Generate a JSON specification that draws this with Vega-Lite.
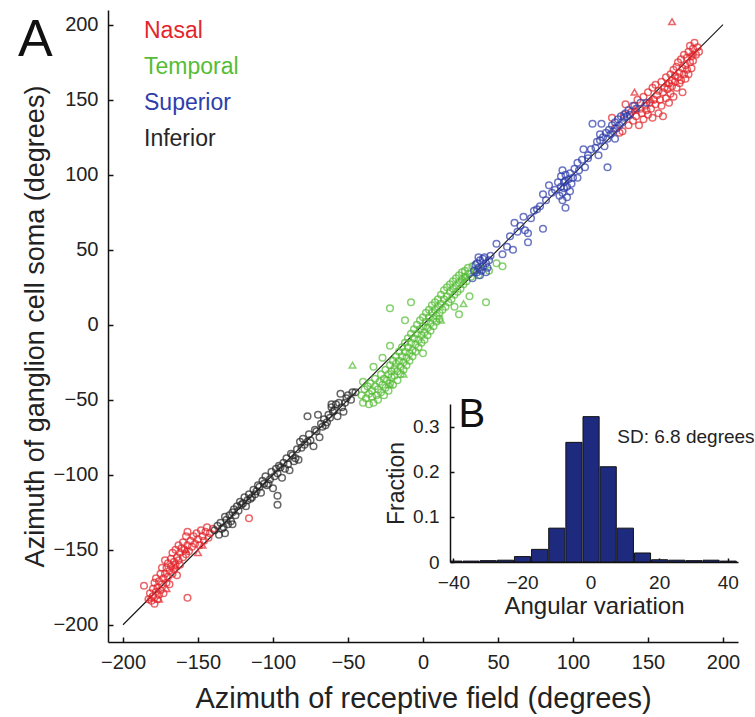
{
"$schema": "https://vega.github.io/schema/vega-lite/v6.json",
"width": 630, "height": 632,
"autosize": "none",
"padding": {"left": 108, "top": 10, "right": 17, "bottom": 75},
"background": "white",
"title": {"text": "A", "anchor": "start", "frame": "group", "orient": "top", "offset": 0, "dx": -90, "dy": 98, "fontSize": 52, "fontWeight": "normal", "font": "Liberation Sans", "color": "#111", "baseline": "alphabetic"},
"config": {
  "view": {"stroke": null},
  "font": "Liberation Sans",
  "axis": {"domainColor": "#111", "domainWidth": 1.5, "tickColor": "#111", "tickWidth": 1.5, "tickSize": -5, "labelFontSize": 20, "labelColor": "#222", "titleFontSize": 27, "titleFontWeight": "normal", "titleColor": "#222", "labelPadding": 15, "grid": false, "labelFont": "Liberation Sans", "titleFont": "Liberation Sans", "labelFlush": false, "labelOverlap": false}
},
"datasets": {
  "diag": [{"x": -200, "y": -200}, {"x": 200, "y": 200}],
  "hist": [
    {"lo": -41, "hi": -37.5, "frac": 0.002}, {"lo": -37.5, "hi": -32.5, "frac": 0.002}, {"lo": -32.5, "hi": -27.5, "frac": 0.003},
    {"lo": -27.5, "hi": -22.5, "frac": 0.004}, {"lo": -22.5, "hi": -17.5, "frac": 0.012}, {"lo": -17.5, "hi": -12.5, "frac": 0.028},
    {"lo": -12.5, "hi": -7.5, "frac": 0.075}, {"lo": -7.5, "hi": -2.5, "frac": 0.265}, {"lo": -2.5, "hi": 2.5, "frac": 0.322},
    {"lo": 2.5, "hi": 7.5, "frac": 0.211}, {"lo": 7.5, "hi": 12.5, "frac": 0.075}, {"lo": 12.5, "hi": 17.5, "frac": 0.02},
    {"lo": 17.5, "hi": 22.5, "frac": 0.005}, {"lo": 22.5, "hi": 27.5, "frac": 0.004}, {"lo": 27.5, "hi": 32.5, "frac": 0.003},
    {"lo": 32.5, "hi": 37.5, "frac": 0.004}, {"lo": 37.5, "hi": 42.5, "frac": 0.002}
  ],
  "triangles": [
    {"g":"Nasal","x":166,"y":202},{"g":"Nasal","x":141,"y":155},{"g":"Nasal","x":141,"y":143},{"g":"Nasal","x":180,"y":181},{"g":"Nasal","x":163,"y":161},{"g":"Nasal","x":152,"y":150},
    {"g":"Nasal","x":-182,"y":-182},{"g":"Nasal","x":-176,"y":-183},{"g":"Nasal","x":-171,"y":-176},{"g":"Nasal","x":-165,"y":-161},{"g":"Nasal","x":-158,"y":-150},{"g":"Nasal","x":-150,"y":-152},{"g":"Nasal","x":-147,"y":-147},
    {"g":"Temporal","x":-47,"y":-27},{"g":"Temporal","x":27,"y":14},{"g":"Temporal","x":12,"y":3},{"g":"Temporal","x":-22,"y":-40},{"g":"Temporal","x":-13,"y":-33},{"g":"Temporal","x":28,"y":32}
  ],
  "circles": [
    {"g":"Nasal","x":128,"y":131},{"g":"Nasal","x":131,"y":128},{"g":"Nasal","x":134,"y":140},{"g":"Nasal","x":135,"y":147},{"g":"Nasal","x":137,"y":133},{"g":"Nasal","x":139,"y":142},{"g":"Nasal","x":140,"y":136},{"g":"Nasal","x":141,"y":146},{"g":"Nasal","x":142,"y":139},{"g":"Nasal","x":143,"y":150},{"g":"Nasal","x":144,"y":133},{"g":"Nasal","x":145,"y":144},{"g":"Nasal","x":146,"y":141},{"g":"Nasal","x":147,"y":152},{"g":"Nasal","x":147,"y":137},{"g":"Nasal","x":148,"y":146},{"g":"Nasal","x":149,"y":143},{"g":"Nasal","x":150,"y":155},{"g":"Nasal","x":150,"y":140},{"g":"Nasal","x":151,"y":148},{"g":"Nasal","x":152,"y":144},{"g":"Nasal","x":153,"y":158},{"g":"Nasal","x":153,"y":138},{"g":"Nasal","x":154,"y":150},{"g":"Nasal","x":155,"y":147},{"g":"Nasal","x":155,"y":160},{"g":"Nasal","x":156,"y":153},{"g":"Nasal","x":157,"y":141},{"g":"Nasal","x":157,"y":156},{"g":"Nasal","x":158,"y":150},{"g":"Nasal","x":159,"y":162},{"g":"Nasal","x":159,"y":146},{"g":"Nasal","x":160,"y":155},{"g":"Nasal","x":160,"y":139},{"g":"Nasal","x":161,"y":158},{"g":"Nasal","x":162,"y":151},{"g":"Nasal","x":162,"y":165},{"g":"Nasal","x":163,"y":157},{"g":"Nasal","x":164,"y":148},{"g":"Nasal","x":164,"y":161},{"g":"Nasal","x":165,"y":167},{"g":"Nasal","x":165,"y":154},{"g":"Nasal","x":166,"y":159},{"g":"Nasal","x":166,"y":163},{"g":"Nasal","x":167,"y":170},{"g":"Nasal","x":167,"y":152},{"g":"Nasal","x":168,"y":162},{"g":"Nasal","x":168,"y":166},{"g":"Nasal","x":169,"y":172},{"g":"Nasal","x":169,"y":158},{"g":"Nasal","x":170,"y":165},{"g":"Nasal","x":170,"y":175},{"g":"Nasal","x":171,"y":161},{"g":"Nasal","x":171,"y":168},{"g":"Nasal","x":172,"y":177},{"g":"Nasal","x":172,"y":163},{"g":"Nasal","x":173,"y":171},{"g":"Nasal","x":173,"y":155},{"g":"Nasal","x":174,"y":167},{"g":"Nasal","x":174,"y":180},{"g":"Nasal","x":175,"y":173},{"g":"Nasal","x":175,"y":164},{"g":"Nasal","x":176,"y":178},{"g":"Nasal","x":176,"y":170},{"g":"Nasal","x":177,"y":182},{"g":"Nasal","x":177,"y":167},{"g":"Nasal","x":178,"y":175},{"g":"Nasal","x":178,"y":186},{"g":"Nasal","x":179,"y":179},{"g":"Nasal","x":179,"y":171},{"g":"Nasal","x":180,"y":184},{"g":"Nasal","x":180,"y":176},{"g":"Nasal","x":181,"y":188},{"g":"Nasal","x":182,"y":180},{"g":"Nasal","x":183,"y":185},{"g":"Nasal","x":184,"y":182},{"g":"Nasal","x":126,"y":138},{"g":"Nasal","x":133,"y":129},
    {"g":"Nasal","x":-183,"y":-183},{"g":"Nasal","x":-182,"y":-179},{"g":"Nasal","x":-181,"y":-184},{"g":"Nasal","x":-180,"y":-176},{"g":"Nasal","x":-180,"y":-181},{"g":"Nasal","x":-179,"y":-172},{"g":"Nasal","x":-179,"y":-186},{"g":"Nasal","x":-178,"y":-178},{"g":"Nasal","x":-178,"y":-169},{"g":"Nasal","x":-177,"y":-183},{"g":"Nasal","x":-177,"y":-175},{"g":"Nasal","x":-176,"y":-171},{"g":"Nasal","x":-176,"y":-180},{"g":"Nasal","x":-175,"y":-166},{"g":"Nasal","x":-175,"y":-177},{"g":"Nasal","x":-174,"y":-173},{"g":"Nasal","x":-174,"y":-162},{"g":"Nasal","x":-173,"y":-169},{"g":"Nasal","x":-173,"y":-179},{"g":"Nasal","x":-172,"y":-157},{"g":"Nasal","x":-172,"y":-166},{"g":"Nasal","x":-171,"y":-172},{"g":"Nasal","x":-171,"y":-162},{"g":"Nasal","x":-170,"y":-168},{"g":"Nasal","x":-170,"y":-159},{"g":"Nasal","x":-169,"y":-164},{"g":"Nasal","x":-169,"y":-173},{"g":"Nasal","x":-168,"y":-156},{"g":"Nasal","x":-168,"y":-161},{"g":"Nasal","x":-167,"y":-152},{"g":"Nasal","x":-167,"y":-166},{"g":"Nasal","x":-166,"y":-158},{"g":"Nasal","x":-166,"y":-163},{"g":"Nasal","x":-165,"y":-150},{"g":"Nasal","x":-165,"y":-160},{"g":"Nasal","x":-164,"y":-155},{"g":"Nasal","x":-164,"y":-167},{"g":"Nasal","x":-163,"y":-147},{"g":"Nasal","x":-163,"y":-157},{"g":"Nasal","x":-162,"y":-152},{"g":"Nasal","x":-162,"y":-160},{"g":"Nasal","x":-161,"y":-149},{"g":"Nasal","x":-160,"y":-155},{"g":"Nasal","x":-160,"y":-145},{"g":"Nasal","x":-159,"y":-150},{"g":"Nasal","x":-158,"y":-153},{"g":"Nasal","x":-158,"y":-141},{"g":"Nasal","x":-157,"y":-138},{"g":"Nasal","x":-157,"y":-147},{"g":"Nasal","x":-156,"y":-151},{"g":"Nasal","x":-155,"y":-144},{"g":"Nasal","x":-154,"y":-148},{"g":"Nasal","x":-153,"y":-141},{"g":"Nasal","x":-152,"y":-146},{"g":"Nasal","x":-151,"y":-139},{"g":"Nasal","x":-150,"y":-143},{"g":"Nasal","x":-149,"y":-147},{"g":"Nasal","x":-148,"y":-137},{"g":"Nasal","x":-147,"y":-141},{"g":"Nasal","x":-146,"y":-144},{"g":"Nasal","x":-145,"y":-138},{"g":"Nasal","x":-144,"y":-135},{"g":"Nasal","x":-143,"y":-142},{"g":"Nasal","x":-142,"y":-139},{"g":"Nasal","x":-140,"y":-136},{"g":"Nasal","x":-157,"y":-182},{"g":"Nasal","x":-116,"y":-129},{"g":"Nasal","x":-186,"y":-174},
    {"g":"Inferior","x":-139,"y":-137},{"g":"Inferior","x":-137,"y":-134},{"g":"Inferior","x":-136,"y":-140},{"g":"Inferior","x":-135,"y":-132},{"g":"Inferior","x":-134,"y":-136},{"g":"Inferior","x":-133,"y":-135},{"g":"Inferior","x":-132,"y":-139},{"g":"Inferior","x":-132,"y":-128},{"g":"Inferior","x":-131,"y":-130},{"g":"Inferior","x":-130,"y":-133},{"g":"Inferior","x":-129,"y":-127},{"g":"Inferior","x":-128,"y":-131},{"g":"Inferior","x":-127,"y":-125},{"g":"Inferior","x":-127,"y":-133},{"g":"Inferior","x":-126,"y":-123},{"g":"Inferior","x":-125,"y":-127},{"g":"Inferior","x":-124,"y":-121},{"g":"Inferior","x":-123,"y":-124},{"g":"Inferior","x":-122,"y":-118},{"g":"Inferior","x":-121,"y":-120},{"g":"Inferior","x":-120,"y":-119},{"g":"Inferior","x":-119,"y":-115},{"g":"Inferior","x":-118,"y":-121},{"g":"Inferior","x":-117,"y":-117},{"g":"Inferior","x":-116,"y":-113},{"g":"Inferior","x":-115,"y":-116},{"g":"Inferior","x":-114,"y":-115},{"g":"Inferior","x":-113,"y":-110},{"g":"Inferior","x":-112,"y":-113},{"g":"Inferior","x":-111,"y":-111},{"g":"Inferior","x":-110,"y":-107},{"g":"Inferior","x":-109,"y":-108},{"g":"Inferior","x":-108,"y":-112},{"g":"Inferior","x":-107,"y":-104},{"g":"Inferior","x":-106,"y":-106},{"g":"Inferior","x":-105,"y":-101},{"g":"Inferior","x":-104,"y":-107},{"g":"Inferior","x":-103,"y":-106},{"g":"Inferior","x":-102,"y":-103},{"g":"Inferior","x":-101,"y":-98},{"g":"Inferior","x":-100,"y":-109},{"g":"Inferior","x":-99,"y":-101},{"g":"Inferior","x":-98,"y":-96},{"g":"Inferior","x":-97,"y":-99},{"g":"Inferior","x":-97,"y":-114},{"g":"Inferior","x":-97,"y":-120},{"g":"Inferior","x":-96,"y":-94},{"g":"Inferior","x":-95,"y":-95},{"g":"Inferior","x":-94,"y":-102},{"g":"Inferior","x":-93,"y":-92},{"g":"Inferior","x":-92,"y":-96},{"g":"Inferior","x":-91,"y":-89},{"g":"Inferior","x":-90,"y":-93},{"g":"Inferior","x":-89,"y":-97},{"g":"Inferior","x":-88,"y":-86},{"g":"Inferior","x":-87,"y":-87},{"g":"Inferior","x":-86,"y":-91},{"g":"Inferior","x":-85,"y":-89},{"g":"Inferior","x":-84,"y":-83},{"g":"Inferior","x":-83,"y":-90},{"g":"Inferior","x":-82,"y":-78},{"g":"Inferior","x":-81,"y":-82},{"g":"Inferior","x":-80,"y":-76},{"g":"Inferior","x":-79,"y":-80},{"g":"Inferior","x":-77,"y":-78},{"g":"Inferior","x":-77,"y":-61},{"g":"Inferior","x":-76,"y":-73},{"g":"Inferior","x":-75,"y":-77},{"g":"Inferior","x":-73,"y":-81},{"g":"Inferior","x":-72,"y":-70},{"g":"Inferior","x":-71,"y":-71},{"g":"Inferior","x":-70,"y":-60},{"g":"Inferior","x":-69,"y":-75},{"g":"Inferior","x":-68,"y":-66},{"g":"Inferior","x":-67,"y":-68},{"g":"Inferior","x":-66,"y":-63},{"g":"Inferior","x":-65,"y":-67},{"g":"Inferior","x":-64,"y":-65},{"g":"Inferior","x":-63,"y":-60},{"g":"Inferior","x":-62,"y":-62},{"g":"Inferior","x":-61,"y":-55},{"g":"Inferior","x":-60,"y":-58},{"g":"Inferior","x":-59,"y":-57},{"g":"Inferior","x":-58,"y":-53},{"g":"Inferior","x":-57,"y":-61},{"g":"Inferior","x":-56,"y":-52},{"g":"Inferior","x":-55,"y":-46},{"g":"Inferior","x":-54,"y":-55},{"g":"Inferior","x":-53,"y":-58},{"g":"Inferior","x":-52,"y":-52},{"g":"Inferior","x":-51,"y":-49},{"g":"Inferior","x":-50,"y":-47},{"g":"Inferior","x":-47,"y":-45},{"g":"Inferior","x":-45,"y":-45},{"g":"Inferior","x":-61,"y":-53},{"g":"Inferior","x":-48,"y":-50},
    {"g":"Temporal","x":-41,"y":-47},{"g":"Temporal","x":-40,"y":-52},{"g":"Temporal","x":-39,"y":-43},{"g":"Temporal","x":-38,"y":-49},{"g":"Temporal","x":-37,"y":-41},{"g":"Temporal","x":-36,"y":-53},{"g":"Temporal","x":-36,"y":-46},{"g":"Temporal","x":-35,"y":-39},{"g":"Temporal","x":-34,"y":-48},{"g":"Temporal","x":-34,"y":-44},{"g":"Temporal","x":-33,"y":-52},{"g":"Temporal","x":-32,"y":-41},{"g":"Temporal","x":-32,"y":-36},{"g":"Temporal","x":-31,"y":-47},{"g":"Temporal","x":-30,"y":-43},{"g":"Temporal","x":-30,"y":-50},{"g":"Temporal","x":-29,"y":-38},{"g":"Temporal","x":-28,"y":-45},{"g":"Temporal","x":-28,"y":-33},{"g":"Temporal","x":-27,"y":-40},{"g":"Temporal","x":-26,"y":-36},{"g":"Temporal","x":-26,"y":-47},{"g":"Temporal","x":-25,"y":-30},{"g":"Temporal","x":-25,"y":-42},{"g":"Temporal","x":-24,"y":-37},{"g":"Temporal","x":-23,"y":-33},{"g":"Temporal","x":-23,"y":-44},{"g":"Temporal","x":-22,"y":-27},{"g":"Temporal","x":-22,"y":-39},{"g":"Temporal","x":-21,"y":-31},{"g":"Temporal","x":-21,"y":-35},{"g":"Temporal","x":-20,"y":-24},{"g":"Temporal","x":-20,"y":-40},{"g":"Temporal","x":-19,"y":-29},{"g":"Temporal","x":-19,"y":-34},{"g":"Temporal","x":-18,"y":-21},{"g":"Temporal","x":-18,"y":-26},{"g":"Temporal","x":-17,"y":-31},{"g":"Temporal","x":-17,"y":-37},{"g":"Temporal","x":-16,"y":-18},{"g":"Temporal","x":-16,"y":-24},{"g":"Temporal","x":-15,"y":-28},{"g":"Temporal","x":-15,"y":-33},{"g":"Temporal","x":-14,"y":-15},{"g":"Temporal","x":-14,"y":-21},{"g":"Temporal","x":-13,"y":-25},{"g":"Temporal","x":-13,"y":-30},{"g":"Temporal","x":-12,"y":-12},{"g":"Temporal","x":-12,"y":-18},{"g":"Temporal","x":-11,"y":-22},{"g":"Temporal","x":-11,"y":-27},{"g":"Temporal","x":-10,"y":-9},{"g":"Temporal","x":-10,"y":-15},{"g":"Temporal","x":-9,"y":-19},{"g":"Temporal","x":-9,"y":-24},{"g":"Temporal","x":-8,"y":-6},{"g":"Temporal","x":-8,"y":-12},{"g":"Temporal","x":-7,"y":-17},{"g":"Temporal","x":-7,"y":-21},{"g":"Temporal","x":-6,"y":-3},{"g":"Temporal","x":-6,"y":-9},{"g":"Temporal","x":-5,"y":-13},{"g":"Temporal","x":-5,"y":-18},{"g":"Temporal","x":-4,"y":0},{"g":"Temporal","x":-4,"y":-6},{"g":"Temporal","x":-3,"y":-10},{"g":"Temporal","x":-3,"y":-15},{"g":"Temporal","x":-2,"y":3},{"g":"Temporal","x":-2,"y":-3},{"g":"Temporal","x":-1,"y":-7},{"g":"Temporal","x":-1,"y":-12},{"g":"Temporal","x":0,"y":5},{"g":"Temporal","x":0,"y":-1},{"g":"Temporal","x":1,"y":-5},{"g":"Temporal","x":1,"y":-10},{"g":"Temporal","x":2,"y":8},{"g":"Temporal","x":2,"y":2},{"g":"Temporal","x":3,"y":-2},{"g":"Temporal","x":3,"y":-7},{"g":"Temporal","x":4,"y":10},{"g":"Temporal","x":4,"y":5},{"g":"Temporal","x":5,"y":1},{"g":"Temporal","x":5,"y":-4},{"g":"Temporal","x":6,"y":13},{"g":"Temporal","x":6,"y":8},{"g":"Temporal","x":7,"y":4},{"g":"Temporal","x":7,"y":-1},{"g":"Temporal","x":8,"y":15},{"g":"Temporal","x":8,"y":10},{"g":"Temporal","x":9,"y":6},{"g":"Temporal","x":9,"y":2},{"g":"Temporal","x":10,"y":17},{"g":"Temporal","x":10,"y":12},{"g":"Temporal","x":11,"y":8},{"g":"Temporal","x":11,"y":4},{"g":"Temporal","x":12,"y":20},{"g":"Temporal","x":12,"y":14},{"g":"Temporal","x":13,"y":10},{"g":"Temporal","x":14,"y":23},{"g":"Temporal","x":14,"y":17},{"g":"Temporal","x":15,"y":12},{"g":"Temporal","x":16,"y":25},{"g":"Temporal","x":16,"y":19},{"g":"Temporal","x":17,"y":15},{"g":"Temporal","x":18,"y":27},{"g":"Temporal","x":18,"y":22},{"g":"Temporal","x":19,"y":17},{"g":"Temporal","x":20,"y":29},{"g":"Temporal","x":20,"y":24},{"g":"Temporal","x":21,"y":20},{"g":"Temporal","x":22,"y":31},{"g":"Temporal","x":22,"y":26},{"g":"Temporal","x":23,"y":22},{"g":"Temporal","x":24,"y":33},{"g":"Temporal","x":24,"y":28},{"g":"Temporal","x":25,"y":24},{"g":"Temporal","x":26,"y":35},{"g":"Temporal","x":26,"y":30},{"g":"Temporal","x":27,"y":27},{"g":"Temporal","x":28,"y":36},{"g":"Temporal","x":28,"y":32},{"g":"Temporal","x":29,"y":29},{"g":"Temporal","x":30,"y":38},{"g":"Temporal","x":31,"y":34},{"g":"Temporal","x":32,"y":32},{"g":"Temporal","x":33,"y":39},{"g":"Temporal","x":35,"y":36},{"g":"Temporal","x":37,"y":33},
    {"g":"Temporal","x":-22,"y":11},{"g":"Temporal","x":-8,"y":15},{"g":"Temporal","x":0,"y":-19},{"g":"Temporal","x":31,"y":19},{"g":"Temporal","x":42,"y":15},{"g":"Temporal","x":24,"y":7},{"g":"Temporal","x":21,"y":12},{"g":"Temporal","x":49,"y":41},{"g":"Temporal","x":53,"y":39},{"g":"Temporal","x":38,"y":38},{"g":"Temporal","x":44,"y":36},{"g":"Temporal","x":-27,"y":-22},{"g":"Temporal","x":-33,"y":-28},{"g":"Temporal","x":-40,"y":-38},{"g":"Temporal","x":-22,"y":-14},{"g":"Temporal","x":-12,"y":3},
    {"g":"Superior","x":33,"y":31},{"g":"Superior","x":34,"y":36},{"g":"Superior","x":35,"y":40},{"g":"Superior","x":36,"y":35},{"g":"Superior","x":36,"y":41},{"g":"Superior","x":37,"y":38},{"g":"Superior","x":38,"y":43},{"g":"Superior","x":38,"y":33},{"g":"Superior","x":39,"y":36},{"g":"Superior","x":40,"y":39},{"g":"Superior","x":40,"y":44},{"g":"Superior","x":41,"y":45},{"g":"Superior","x":42,"y":41},{"g":"Superior","x":43,"y":38},{"g":"Superior","x":44,"y":43},{"g":"Superior","x":45,"y":46},{"g":"Superior","x":37,"y":45},{"g":"Superior","x":42,"y":35},
    {"g":"Superior","x":49,"y":54},{"g":"Superior","x":53,"y":47},{"g":"Superior","x":56,"y":52},{"g":"Superior","x":58,"y":59},{"g":"Superior","x":60,"y":50},{"g":"Superior","x":61,"y":68},{"g":"Superior","x":63,"y":62},{"g":"Superior","x":65,"y":66},{"g":"Superior","x":67,"y":72},{"g":"Superior","x":68,"y":63},{"g":"Superior","x":70,"y":61},{"g":"Superior","x":70,"y":55},{"g":"Superior","x":72,"y":71},{"g":"Superior","x":74,"y":76},{"g":"Superior","x":76,"y":77},{"g":"Superior","x":78,"y":79},{"g":"Superior","x":80,"y":87},{"g":"Superior","x":80,"y":64},{"g":"Superior","x":82,"y":83},{"g":"Superior","x":84,"y":93},{"g":"Superior","x":86,"y":88},{"g":"Superior","x":88,"y":90},{"g":"Superior","x":90,"y":95},{"g":"Superior","x":91,"y":86},{"g":"Superior","x":92,"y":99},{"g":"Superior","x":93,"y":88},{"g":"Superior","x":93,"y":83},{"g":"Superior","x":93,"y":103},{"g":"Superior","x":94,"y":95},{"g":"Superior","x":94,"y":91},{"g":"Superior","x":95,"y":78},{"g":"Superior","x":95,"y":100},{"g":"Superior","x":96,"y":92},{"g":"Superior","x":96,"y":85},{"g":"Superior","x":97,"y":97},{"g":"Superior","x":98,"y":101},{"g":"Superior","x":98,"y":89},{"g":"Superior","x":99,"y":94},{"g":"Superior","x":100,"y":98},{"g":"Superior","x":101,"y":104},{"g":"Superior","x":103,"y":108},{"g":"Superior","x":103,"y":98},{"g":"Superior","x":104,"y":103},{"g":"Superior","x":106,"y":110},{"g":"Superior","x":107,"y":117},{"g":"Superior","x":108,"y":105},{"g":"Superior","x":110,"y":111},{"g":"Superior","x":110,"y":113},{"g":"Superior","x":112,"y":117},{"g":"Superior","x":113,"y":134},{"g":"Superior","x":115,"y":118},{"g":"Superior","x":116,"y":122},{"g":"Superior","x":117,"y":113},{"g":"Superior","x":118,"y":123},{"g":"Superior","x":119,"y":134},{"g":"Superior","x":120,"y":125},{"g":"Superior","x":121,"y":119},{"g":"Superior","x":122,"y":128},{"g":"Superior","x":123,"y":105},{"g":"Superior","x":123,"y":124},{"g":"Superior","x":124,"y":130},{"g":"Superior","x":125,"y":127},{"g":"Superior","x":126,"y":133},{"g":"Superior","x":127,"y":129},{"g":"Superior","x":128,"y":135},{"g":"Superior","x":129,"y":131},{"g":"Superior","x":130,"y":137},{"g":"Superior","x":131,"y":133},{"g":"Superior","x":132,"y":139},{"g":"Superior","x":133,"y":135},{"g":"Superior","x":134,"y":138},{"g":"Superior","x":135,"y":141},{"g":"Superior","x":136,"y":139},{"g":"Superior","x":137,"y":143},{"g":"Superior","x":138,"y":140},{"g":"Superior","x":140,"y":146},{"g":"Superior","x":142,"y":144},{"g":"Superior","x":145,"y":148},{"g":"Superior","x":149,"y":148},{"g":"Superior","x":128,"y":124},{"g":"Superior","x":118,"y":127},{"g":"Superior","x":92,"y":92},{"g":"Superior","x":95,"y":96}
  ]
},
"layer": [
  {
    "encoding": {
      "x": {"field": "x", "type": "quantitative", "scale": {"domain": [-210, 210], "nice": false, "zero": false},
            "axis": {"values": [-200, -150, -100, -50, 0, 50, 100, 150, 200], "title": "Azimuth of receptive field (degrees)", "titleFontSize": 29, "titlePadding": 12}},
      "y": {"field": "y", "type": "quantitative", "scale": {"domain": [-211.5, 209.8], "nice": false, "zero": false},
            "axis": {"values": [-200, -150, -100, -50, 0, 50, 100, 150, 200], "title": "Azimuth of ganglion cell soma (degrees)", "titlePadding": 3}}
    },
    "layer": [
      {"data": {"name": "diag"}, "mark": {"type": "line", "color": "#111", "strokeWidth": 1.1}},
      {"data": {"name": "circles"}, "mark": {"type": "point", "shape": "circle", "filled": false, "strokeWidth": 1.5, "size": 44},
       "encoding": {"color": {"field": "g", "type": "nominal",
          "scale": {"domain": ["Nasal", "Temporal", "Superior", "Inferior"], "range": ["#e3262c", "#55bd35", "#2e3dab", "#262626"]},
          "legend": {"orient": "none", "legendX": 13, "legendY": 9, "title": null, "symbolSize": 0, "symbolStrokeWidth": 0, "symbolOpacity": 0, "labelFontSize": 23, "labelFont": "Liberation Sans", "labelOffset": 0, "rowPadding": 12,
                     "labelColor": {"expr": "scale('color', datum.value)"}}}}},
      {"data": {"name": "triangles"}, "mark": {"type": "point", "shape": "triangle-up", "filled": false, "strokeWidth": 1.5, "size": 44},
       "encoding": {"color": {"field": "g", "type": "nominal", "legend": null}}}
    ]
  },
  {
    "layer": [
      {"data": {"name": "hist"}, "mark": {"type": "bar", "color": "#1e2a7e", "stroke": "#111", "strokeWidth": 1},
       "encoding": {
         "x": {"field": "lo", "type": "quantitative", "bin": "binned", "scale": {"domain": [-41, 43], "range": [342, 630], "nice": false, "zero": false},
               "axis": {"orient": "bottom", "offset": -80, "values": [-40, -20, 0, 20, 40], "labelFontSize": 19, "title": "Angular variation", "titleFontSize": 24, "titlePadding": 2, "tickSize": -4}},
         "x2": {"field": "hi"},
         "y": {"field": "frac", "type": "quantitative", "scale": {"domain": [0, 0.35], "range": [552, 394], "nice": false},
               "axis": {"orient": "left", "offset": -342, "values": [0, 0.1, 0.2, 0.3], "format": "~g", "labelFontSize": 19, "title": "Fraction", "titleFontSize": 23, "titlePadding": 4, "tickSize": -4}}
       }},
      {"data": {"values": [{}]}, "mark": {"type": "text", "text": "B", "fontSize": 40, "align": "left", "baseline": "alphabetic", "font": "Liberation Sans", "color": "#111"},
       "encoding": {"x": {"datum": -38.5, "type": "quantitative"}, "y": {"datum": 0.298, "type": "quantitative"}}},
      {"data": {"values": [{}]}, "mark": {"type": "text", "text": "SD: 6.8 degrees", "fontSize": 19, "align": "left", "baseline": "middle", "font": "Liberation Sans", "color": "#222"},
       "encoding": {"x": {"datum": 7.8, "type": "quantitative"}, "y": {"datum": 0.278, "type": "quantitative"}}}
    ]
  }
],
"resolve": {"scale": {"x": "independent", "y": "independent"}}
}
